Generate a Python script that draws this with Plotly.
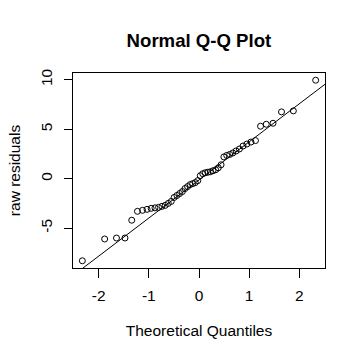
import plotly.graph_objects as go

# Theoretical normal quantiles (n = 50)
theoretical_quantiles = [
    -2.326, -1.881, -1.645, -1.476, -1.341, -1.227, -1.126, -1.036, -0.954, -0.878,
    -0.806, -0.739, -0.674, -0.613, -0.553, -0.496, -0.440, -0.385, -0.332, -0.279,
    -0.228, -0.176, -0.126, -0.075, -0.025, 0.025, 0.075, 0.126, 0.176, 0.228,
    0.279, 0.332, 0.385, 0.440, 0.496, 0.553, 0.613, 0.674, 0.739, 0.806,
    0.878, 0.954, 1.036, 1.126, 1.227, 1.341, 1.476, 1.645, 1.881, 2.326,
]
# Sorted raw residuals
raw_residuals = [
    -8.3, -6.1, -6.0, -6.0, -4.2, -3.3, -3.2, -3.1, -3.0, -2.95,
    -2.9, -2.8, -2.7, -2.5, -2.3, -1.9, -1.7, -1.5, -1.3, -1.0,
    -0.8, -0.6, -0.5, -0.4, -0.2, 0.3, 0.5, 0.6, 0.65, 0.7,
    0.8, 0.9, 1.1, 1.4, 2.2, 2.35, 2.45, 2.6, 2.8, 3.0,
    3.3, 3.5, 3.7, 3.85, 5.3, 5.5, 5.6, 6.75, 6.85, 9.95,
]
# Reference line (qqline)
qqline_intercept = -0.13
qqline_slope = 3.85

x_ticks = [-2, -1, 0, 1, 2]
y_ticks = [-5, 0, 5, 10]

def r_range(v):
    lo, hi = min(v), max(v)
    d = hi - lo
    return [lo - 0.04 * d, hi + 0.04 * d]

xr = r_range(theoretical_quantiles)
yr = r_range(raw_residuals)

FONT = "Liberation Sans, Arial, sans-serif"

fig = go.Figure()
line_x = [xr[0] - 1, xr[1] + 1]
fig.add_trace(go.Scatter(
    x=line_x, y=[qqline_intercept + qqline_slope * v for v in line_x],
    mode="lines", line=dict(color="black", width=1), hoverinfo="skip",
))
fig.add_trace(go.Scatter(
    x=theoretical_quantiles, y=raw_residuals, mode="markers",
    marker=dict(symbol="circle-open", size=6, color="black", line=dict(width=1, color="black")),
))

fig.update_layout(
    width=363, height=359,
    margin=dict(l=73, r=38, t=73, b=91),
    paper_bgcolor="white", plot_bgcolor="white",
    showlegend=False,
    font=dict(family=FONT, size=15.5, color="black"),
    title=dict(text="<b>Normal Q-Q Plot</b>", x=0.548, xanchor="center", y=1 - 40 / 359, yanchor="middle",
               font=dict(family=FONT, size=18.6, color="black")),
)
fig.update_xaxes(
    range=xr, tickvals=x_ticks, ticktext=[str(t) for t in x_ticks],
    showgrid=False, zeroline=False, showline=True, mirror=True,
    linecolor="black", linewidth=1, ticks="outside", ticklen=9, tickcolor="black",
    ticklabelstandoff=4,
    title=dict(text="Theoretical Quantiles", standoff=22, font=dict(size=15.5)),
)
fig.update_yaxes(
    range=yr, tickvals=y_ticks, ticktext=[str(t) for t in y_ticks], tickangle=-90,
    showgrid=False, zeroline=False, showline=True, mirror=True,
    linecolor="black", linewidth=1, ticks="outside", ticklen=8, tickcolor="black",
    ticklabelstandoff=6,
    title=dict(text="raw residuals", standoff=13, font=dict(size=15.5)),
)

fig.write_html("out.html")
